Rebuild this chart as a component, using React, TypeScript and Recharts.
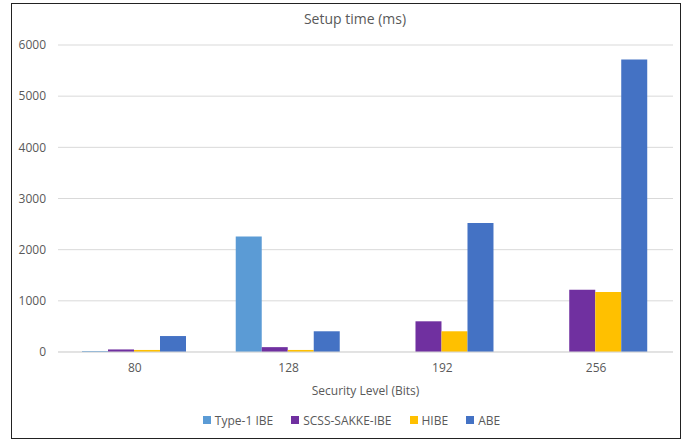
import React from "react";
import { BarChart, Bar, XAxis, YAxis, CartesianGrid, Legend } from "recharts";

const categories = ["80", "128", "192", "256"];
const type1Ibe = [20, 2255, 0, 0];
const scssSakkeIbe = [50, 95, 600, 1215];
const hibe = [40, 40, 405, 1172];
const abe = [312, 405, 2520, 5715];
const yTicks = [0, 1000, 2000, 3000, 4000, 5000, 6000];

const seriesNames = ["Type-1 IBE", "SCSS-SAKKE-IBE", "HIBE", "ABE"];
const seriesKeys = ["type1", "scss", "hibe", "abe"];
const seriesColors = ["#5B9BD5", "#7030A0", "#FFC000", "#4472C4"];

const data = categories.map((c, i) => ({
  level: c,
  type1: type1Ibe[i],
  scss: scssSakkeIbe[i],
  hibe: hibe[i],
  abe: abe[i],
}));

const FONT = "'Open Sans', 'DejaVu Sans', sans-serif";
const GRAY = "#595959";

const LegendContent = () => (
  <div style={{ display: "flex", justifyContent: "center", height: 20, alignItems: "center", fontSize: 12, fontFamily: FONT, color: GRAY, paddingLeft: 48 }}>
    {seriesNames.map((n, i) => (
      <span key={n} style={{ display: "inline-flex", alignItems: "center", marginRight: 18 }}>
        <span style={{ display: "inline-block", width: 8, height: 8, background: seriesColors[i], marginRight: 4 }} />
        {n}
      </span>
    ))}
  </div>
);

export default function App() {
  return (
    <div style={{ position: "absolute", left: 0, top: 0, width: 700, height: 443, background: "#fff", fontFamily: FONT }}>
      <div
        style={{
          position: "absolute",
          left: 11,
          top: 3,
          width: 670,
          height: 436,
          border: "1.5px solid #222",
          boxSizing: "border-box",
        }}
      />
      <div
        style={{
          position: "absolute",
          left: 0,
          top: 9,
          width: 710,
          textAlign: "center",
          fontSize: 14,
          color: GRAY,
        }}
      >
        Setup time (ms)
      </div>
      <div style={{ position: "absolute", left: 0, top: 0 }}>
        <BarChart
          width={700}
          height={443}
          data={data}
          margin={{ top: 45, right: 27, left: 0, bottom: 13 }}
          barCategoryGap="15.6%"
          barGap={0}
        >
          <CartesianGrid vertical={false} stroke="#d9d9d9" />
          <XAxis
            dataKey="level"
            height={58}
            axisLine={{ stroke: "#d9d9d9" }}
            tickLine={false}
            tick={{ fill: GRAY, fontSize: 12, fontFamily: FONT }}
            tickMargin={5}
            label={{ value: "Security Level (Bits)", position: "insideBottom", offset: 15, fill: GRAY, fontSize: 12, fontFamily: FONT }}
          />
          <YAxis
            width={58}
            domain={[0, 6000]}
            ticks={yTicks}
            axisLine={false}
            tickLine={false}
            tickMargin={6}
            tick={{ fill: GRAY, fontSize: 12, fontFamily: FONT }}
          />
          <Legend verticalAlign="bottom" align="center" content={<LegendContent />} />
          {seriesKeys.map((k, i) => (
            <Bar key={k} dataKey={k} name={seriesNames[i]} fill={seriesColors[i]} isAnimationActive={false} />
          ))}
        </BarChart>
      </div>
    </div>
  );
}
